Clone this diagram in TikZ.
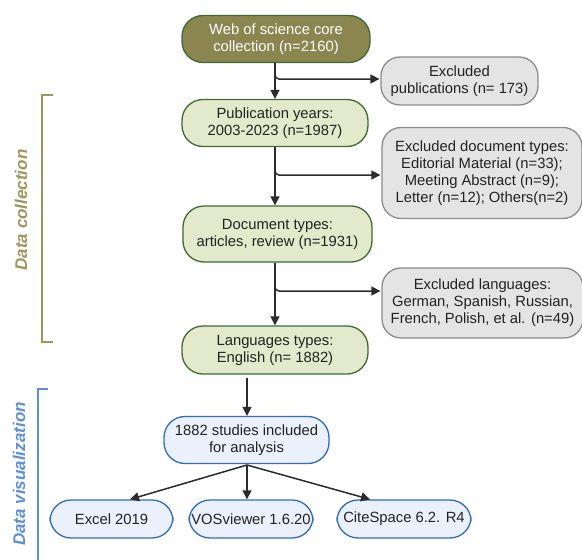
\documentclass[tikz,border=0pt]{standalone}
\usepackage{fontspec}
\setmainfont{Liberation Sans}
\usetikzlibrary{arrows.meta}
\definecolor{olivefill}{HTML}{8B8650}
\definecolor{darkgreen}{HTML}{3F6A32}
\definecolor{lightgreen}{HTML}{E2EACB}
\definecolor{greyfill}{HTML}{E4E4E4}
\definecolor{greyline}{HTML}{8C8C8C}
\definecolor{bluefill}{HTML}{EAF1FC}
\definecolor{blueline}{HTML}{2F6BC2}
\definecolor{olivetext}{HTML}{9C975C}
\definecolor{bluetext}{HTML}{5E8FDA}
\definecolor{arrowcol}{HTML}{2B2B2B}
\definecolor{boxtext}{HTML}{222222}
\tikzset{
  box/.style={draw, line width=1.3pt, rounded corners=21pt, align=center, inner sep=0pt,
    font=\fontsize{14.8}{17}\selectfont},
  topbox/.style={box, fill=olivefill, draw=darkgreen, text=white},
  greenbox/.style={box, fill=lightgreen, draw=darkgreen, text=boxtext},
  greybox/.style={box, fill=greyfill, draw=greyline, text=boxtext, rounded corners=19pt},
  bluebox/.style={box, fill=bluefill, draw=blueline, text=boxtext},
  arr/.style={draw=arrowcol, line width=1.5pt, -{Triangle[length=9pt,width=9pt]}},
  bracket/.style={line width=1.7pt},
  sidelabel/.style={rotate=90, font=\fontsize{17}{20}\selectfont\bfseries\itshape}
}
\begin{document}
\begin{tikzpicture}[x=1pt,y=-1pt]
\useasboundingbox (0,0) rectangle (582,560);
% main column
\node[topbox, minimum width=188pt, minimum height=47pt] (wos) at (276,39) {Web of science core\\collection (n=2160)};
\node[greenbox, minimum width=186pt, minimum height=47pt] (pub) at (275,123) {Publication years:\\2003-2023 (n=1987)};
\node[greenbox, minimum width=189pt, minimum height=56pt] (doc) at (277.5,234) {Document types:\\articles, review (n=1931)};
\node[greenbox, minimum width=186pt, minimum height=48pt] (lang) at (275,350) {Languages types:\\English (n= 1882)};
% exclusions
\node[greybox, minimum width=157pt, minimum height=48pt] (ex1) at (459.5,81) {Excluded\\publications (n= 173)};
\node[greybox, minimum width=200pt, minimum height=91pt] (ex2) at (482,173) {Excluded document types:\\Editorial Material (n=33);\\Meeting Abstract (n=9);\\Letter (n=12); Others(n=2)};
\node[greybox, minimum width=201pt, minimum height=70pt] (ex3) at (482.5,303) {Excluded languages:\\German, Spanish, Russian,\\French, Polish, et al. (n=49)};
% analysis
\node[bluebox, minimum width=165pt, minimum height=47pt] (study) at (246.5,440) {1882 studies included\\for analysis};
\node[bluebox, minimum width=123pt, minimum height=38pt] (excel) at (111.5,519) {Excel 2019};
\node[bluebox, minimum width=124pt, minimum height=38pt] (vos) at (251,519) {VOSviewer 1.6.20};
\node[bluebox, minimum width=134pt, minimum height=38pt] (cite) at (404,519) {CiteSpace 6.2. R4};
% main arrows
\draw[arr] (wos.south -| 275,0) -- (pub.north -| 275,0);
\draw[arr] (pub.south -| 275,0) -- (doc.north -| 275,0);
\draw[arr] (doc.south -| 275,0) -- (lang.north -| 275,0);
% branches
\draw[arr, rounded corners=4pt] (275,72) |- (ex1.west |- 0,79) -- ++(-1,0);
\draw[arr, rounded corners=4pt] (275,167) |- (ex2.west |- 0,175) -- ++(-1,0);
\draw[arr, rounded corners=4pt] (275,283) |- (ex3.west |- 0,291) -- ++(-1,0);
% to analysis
\coordinate (lb) at (247,378);
\draw[arr] (lb) -- (study.north -| lb);
\coordinate (fan) at (247,465);
\draw[arr] (fan) -- (excel.north -| 130,0);
\draw[arr] (fan) -- (vos.north -| 247,0);
\draw[arr] (fan) -- (cite.north -| 370,0);
% brackets
\draw[bracket, draw=olivetext] (53,95) -- (42,95) -- (42,342) -- (53,342);
\node[sidelabel, text=olivetext] (dc) at (21,210) {Data collection};
\draw[bracket, draw=bluetext] (48,389) -- (38,389) -- (38,562);
\node[sidelabel, text=bluetext] (dv) at (19,474) {Data visualization};
\end{tikzpicture}
\end{document}
